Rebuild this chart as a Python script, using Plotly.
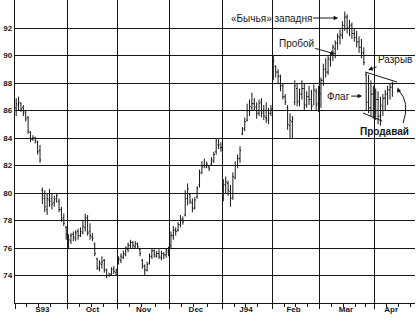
import plotly.graph_objects as go

# trading-day index, one bar per day (Sep 1993 .. Apr 1994)
opens = [86.2,86.4,86.5,86.2,85.9,85.5,84.4,83.9,84.0,83.7,83.1,80.2,79.6,78.8,79.5,79.6,79.3,79.6,79.4,78.8,78.2,77.5,
         76.8,76.5,77.0,76.7,77.2,76.9,77.1,77.5,78.2,77.2,76.8,76.3,75.2,74.5,74.8,75.1,74.4,74.0,74.1,74.5,74.2,
         74.9,75.1,75.3,75.5,75.9,76.2,76.4,76.1,76.3,75.9,75.1,74.7,74.4,74.9,75.4,75.8,75.4,75.6,75.3,75.6,75.5,75.7,
         76.2,76.9,77.3,77.3,77.7,78.1,78.4,79.6,79.9,79.3,78.9,79.7,80.6,81.4,82.0,81.9,81.9,82.1,82.3,83.0,83.5,83.3,
         80.0,80.6,80.7,80.1,79.7,81.1,82.0,82.5,84.3,84.7,85.3,86.0,86.2,86.5,86.3,85.8,86.6,85.9,85.5,85.3,85.8,
         88.4,89.2,88.8,88.5,87.8,87.0,86.2,84.9,85.2,86.6,87.6,86.7,87.2,87.6,86.4,87.0,86.8,86.4,87.4,86.5,
         87.2,88.2,89.0,88.8,89.7,90.0,90.5,90.9,91.3,91.5,92.2,92.8,92.0,92.2,91.6,91.3,91.0,90.6,90.2,88.6,86.6,86.2,87.2,
         85.9,86.8,85.6,86.3,86.9,87.2,87.5,87.7]
highs = [86.9,87.0,86.6,86.4,86.0,85.6,84.5,84.2,84.1,83.8,83.5,80.4,80.2,80.0,80.3,80.0,79.8,80.0,79.6,79.0,78.5,77.6,
         77.0,77.1,77.2,77.3,77.4,77.5,78.0,78.5,78.4,77.8,77.1,76.4,75.3,75.1,75.4,75.2,74.5,74.2,74.6,74.7,74.5,
         75.4,75.6,75.8,76.1,76.4,76.6,76.5,76.5,76.4,76.0,75.2,74.8,75.0,75.6,76.0,75.9,75.8,75.9,75.8,75.7,76.0,76.1,
         77.2,77.6,77.5,77.9,78.4,78.3,80.2,80.7,80.0,79.6,79.7,80.5,81.7,82.3,82.5,82.3,82.0,82.6,83.0,84.0,83.9,83.7,
         81.0,81.2,80.9,80.6,81.5,82.3,82.8,83.4,84.8,85.5,86.5,86.8,87.3,86.9,86.6,86.8,86.9,86.4,86.6,86.2,86.4,
         90.0,89.3,89.0,88.6,88.0,87.2,86.4,85.8,85.6,88.2,88.0,87.6,88.2,88.0,87.4,87.8,87.5,87.9,87.6,87.8,
         88.4,89.4,89.8,90.0,90.2,90.8,91.1,91.6,91.9,92.5,93.2,93.0,92.6,92.4,92.0,91.8,91.4,91.2,90.6,88.8,88.6,88.2,87.8,
         87.6,87.4,87.0,87.2,87.5,87.8,88.0,88.1]
lows = [85.6,86.0,85.9,85.6,85.2,84.3,83.7,83.8,83.6,82.8,82.2,79.2,78.6,78.4,79.0,78.8,79.0,79.3,78.6,77.9,77.6,76.6,
        76.0,76.3,76.5,76.5,76.6,76.8,77.0,77.2,76.9,76.6,76.5,75.4,74.4,74.3,74.5,74.2,73.8,73.9,74.0,74.1,74.0,
        74.8,74.9,75.2,75.4,75.7,76.0,76.0,76.0,76.0,75.4,74.5,74.0,74.3,74.8,75.2,75.3,75.3,75.2,75.1,75.2,75.3,75.4,
        76.0,76.6,76.9,77.2,77.5,77.7,78.3,79.1,79.2,78.6,78.8,79.6,80.4,81.4,81.8,81.8,81.6,82.0,82.2,82.8,83.2,83.0,
        79.4,80.0,79.8,79.0,79.5,81.0,81.8,82.2,84.2,84.5,85.2,85.6,86.0,86.0,85.4,85.6,85.5,85.3,85.1,85.0,85.6,
        88.2,88.4,88.0,87.4,86.8,86.4,84.6,84.0,84.0,86.4,86.3,86.3,86.8,86.0,86.2,86.4,86.0,86.4,86.0,85.9,
        86.2,87.8,88.4,88.6,89.2,89.6,89.8,90.4,90.8,91.2,91.8,91.6,91.4,91.2,91.0,90.6,90.2,89.8,89.3,86.0,85.8,85.6,85.4,
        85.3,85.0,84.9,85.6,86.0,86.4,86.8,87.0]
closes = [86.5,86.6,86.1,85.8,85.4,84.5,83.9,84.0,83.8,83.0,82.4,79.8,79.0,79.6,79.4,79.2,79.5,79.8,78.8,78.1,77.8,77.0,
          76.6,76.9,76.8,77.1,76.9,77.2,77.6,78.2,77.1,76.9,76.7,75.6,74.6,74.9,75.0,74.4,74.0,74.1,74.4,74.3,74.4,
          75.2,75.4,75.6,76.0,76.2,76.4,76.2,76.3,76.1,75.6,74.7,74.4,74.8,75.4,75.8,75.5,75.6,75.4,75.6,75.5,75.8,75.9,
          76.9,77.3,77.2,77.7,78.1,77.9,79.6,80.3,79.4,78.9,79.5,80.3,81.5,81.9,82.0,82.1,81.8,82.4,82.8,83.8,83.5,83.3,
          80.6,80.8,80.2,79.6,81.2,82.0,82.5,83.1,84.6,85.2,86.0,86.3,86.5,86.2,85.8,86.5,85.8,85.6,85.4,85.8,86.1,
          89.6,88.8,88.5,87.8,87.0,86.6,85.0,85.3,85.4,87.8,86.6,87.2,87.6,86.4,87.0,86.8,86.3,87.5,86.4,87.4,
          88.2,89.0,88.8,89.8,90.0,90.6,90.9,91.4,91.5,92.2,92.8,92.0,92.2,91.6,91.3,91.0,90.6,90.2,89.5,86.6,86.2,87.2,85.9,
          86.8,85.6,86.4,86.9,87.2,87.5,87.7,87.9]
days = list(range(len(closes)))

month_labels = ["S93", "Oct", "Nov", "Dec", "J94", "Feb", "Mar", "Apr"]
month_label_pos = [11.0, 32.0, 53.5, 75.5, 96.5, 116.5, 138.5, 157.5]
month_bounds = [-0.5, 21.5, 42.5, 64.5, 86.5, 107.5, 127.5, 150.5]
week_ticks = [4.5, 9.5, 14.5, 26.5, 31.5, 36.5, 47.5, 52.5, 58.5, 69.5, 74.5, 80.5,
              91.5, 96.5, 101.5, 112.5, 117.5, 122.5, 132.5, 137.5, 142.5, 146.5, 155.5, 160.5, 165.5]
price_ticks = [74, 76, 78, 80, 82, 84, 86, 88, 90, 92]

INK = "#161616"
fig = go.Figure()
fig.add_trace(go.Ohlc(x=days, open=opens, high=highs, low=lows, close=closes,
                      increasing=dict(line=dict(color=INK, width=1)),
                      decreasing=dict(line=dict(color=INK, width=1)),
                      tickwidth=0.45, showlegend=False, hoverinfo="skip"))
fig.add_trace(go.Scatter(x=month_label_pos, y=[None]*len(month_label_pos), xaxis="x2",
                         mode="markers", showlegend=False, hoverinfo="skip"))

XR = [-0.5, 167.5]
fig.update_layout(
    width=416, height=321, margin=dict(l=15, r=1, t=0, b=18),
    paper_bgcolor="white", plot_bgcolor="white",
    font=dict(family="Liberation Sans, Arial, sans-serif", color=INK),
    xaxis=dict(range=XR, rangeslider=dict(visible=False), tickmode="array",
               tickvals=month_bounds, ticktext=[""]*len(month_bounds),
               showgrid=True, gridcolor=INK, gridwidth=1.3, zeroline=False,
               showline=True, linecolor=INK, linewidth=1.3,
               ticks="outside", ticklen=5, tickcolor=INK, tickwidth=1.2,
               minor=dict(tickvals=week_ticks, ticks="outside", ticklen=3,
                          tickcolor=INK, tickwidth=1, showgrid=False)),
    xaxis2=dict(range=XR, overlaying="x", anchor="y", side="bottom",
                tickmode="array", tickvals=month_label_pos, ticktext=month_labels,
                showgrid=False, zeroline=False, showline=False, ticks="",
                tickfont=dict(size=8, weight="bold", color=INK)),
    yaxis=dict(range=[72, 94.04], tickmode="array", tickvals=price_ticks,
               showgrid=True, gridcolor=INK, gridwidth=1.3, zeroline=False,
               showline=True, linecolor=INK, linewidth=1.3, ticks="",
               tickfont=dict(size=8, weight="bold", color=INK)),
)

def ann(text, x, y, ax, ay, bold=False, arrow=True):
    fig.add_annotation(x=x, y=y, ax=ax, ay=ay, text=text, showarrow=arrow,
                       arrowhead=2, arrowsize=0.9, arrowwidth=1, arrowcolor=INK,
                       font=dict(size=10, color=INK, weight="bold" if bold else "normal"),
                       xref="x", yref="y")

ann("«Бычья» западня", 135.2, 92.73, -67, 0)
ann("Пробой", 134.0, 90.11, -39, -11)
ann("Разрыв", 147.8, 88.95, 27, -10)
ann("Флаг", 145.3, 87.05, -24, 0)
fig.add_annotation(x=154.5, y=84.5, text="Продавай", showarrow=False,
                   font=dict(size=10, color=INK, weight="bold"), xref="x", yref="y")

# flag boundary lines
fig.add_shape(type="line", x0=146.6, y0=88.8, x1=160.0, y1=88.07, xref="x", yref="y",
              line=dict(color=INK, width=1))
fig.add_shape(type="line", x0=145.7, y0=85.82, x1=153.7, y1=85.24, xref="x", yref="y",
              line=dict(color=INK, width=1))
# curved "sell" arrow
fig.add_shape(type="path", path="M 162.5,85.09 Q 165.6,86.6 160.5,87.5", xref="x", yref="y",
              line=dict(color=INK, width=1))
fig.add_annotation(x=160.2, y=87.67, ax=2, ay=6, text="", showarrow=True, arrowhead=2,
                   arrowsize=0.9, arrowwidth=1, arrowcolor=INK, xref="x", yref="y")

fig.write_html("out.html")
